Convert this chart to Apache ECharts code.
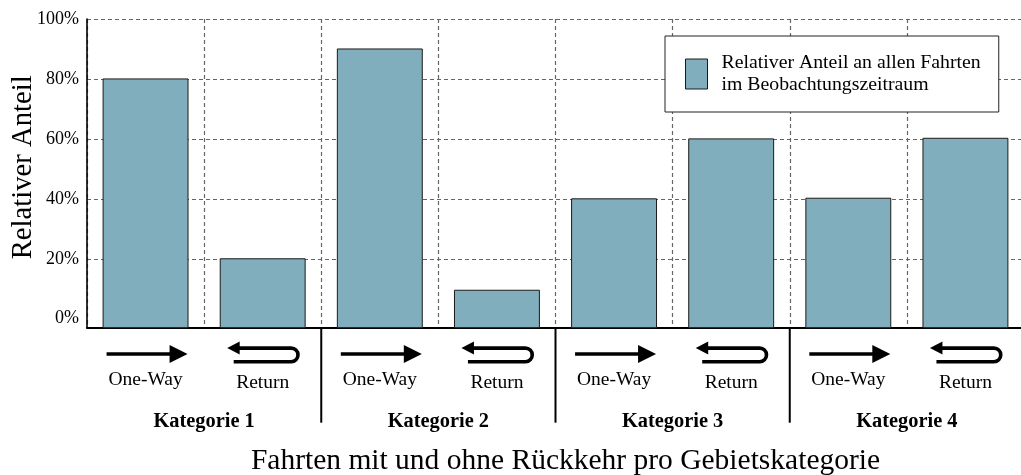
<!DOCTYPE html>
<html><head><meta charset="utf-8">
<script src="https://cdn.jsdelivr.net/npm/echarts@6/dist/echarts.min.js"></script>
<style>html,body{margin:0;padding:0;background:#fff}#c{width:1021px;height:475px}</style>
</head><body><div id="c"></div>
<script>
// ---- data ----
const tripTypes = ['One-Way', 'Return', 'One-Way', 'Return', 'One-Way', 'Return', 'One-Way', 'Return'];
const categories = ['Kategorie 1', 'Kategorie 2', 'Kategorie 3', 'Kategorie 4'];
const shares = [80, 20, 90, 9.5, 40, 60, 40.2, 60.2];
const yTickValues = [0, 20, 40, 60, 80, 100];
const yGridValues = [20, 40, 60, 80, 100];
const seriesName = 'Relativer Anteil an allen Fahrten\nim Beobachtungszeitraum';
const yTitle = 'Relativer Anteil';
const xTitle = 'Fahrten mit und ohne Rückkehr pro Gebietskategorie';

// ---- style ----
const Y_MIN = -3, Y_MAX = 100;
const FONT = '"Liberation Serif", "DejaVu Serif", serif';
const BAR_COLOR = '#80aebd';
const EDGE = '#1a1a1a';
const GRID_COLOR = '#666';

const chart = echarts.init(document.getElementById('c'), null, {renderer: 'canvas'});

function renderBar(params, api) {
  const i = api.value(0), v = api.value(1);
  const top = api.coord([i, v]);
  const base = api.coord([i, Y_MIN]);
  const bw = api.size([1, 0])[0] * 0.725;
  return {
    type: 'rect',
    shape: {x: top[0] - bw / 2, y: top[1], width: bw, height: base[1] - top[1]},
    style: {fill: BAR_COLOR, stroke: EDGE, lineWidth: 1}
  };
}

function renderDeco(params, api) {
  const i = api.value(0);
  const p = api.coord([i, Y_MIN]);
  const cx = p[0], y0 = p[1];
  const band = api.size([1, 0])[0];
  const lw = 3.6;
  const children = [];
  if (tripTypes[i] === 'One-Way') {
    const y = y0 + 26.3;
    children.push({type: 'line', shape: {x1: cx - 39, y1: y, x2: cx + 27, y2: y}, style: {stroke: '#000', lineWidth: lw}});
    children.push({type: 'polygon', shape: {points: [[cx + 24, y - 9], [cx + 42, y], [cx + 24, y + 9]]}, style: {fill: '#000'}});
  } else {
    const yt = y0 + 20.4, yb = y0 + 34, r = (yb - yt) / 2, ux = cx + 28.5;
    const d = 'M' + (cx - 25) + ' ' + yt + ' L' + ux + ' ' + yt +
      ' A' + r + ' ' + r + ' 0 0 1 ' + ux + ' ' + yb + ' L' + (cx - 29) + ' ' + yb;
    children.push({type: 'path', shape: {pathData: d}, style: {fill: 'none', stroke: '#000', lineWidth: lw}});
    children.push({type: 'polygon', shape: {points: [[cx - 35.5, yt], [cx - 23, yt - 6.5], [cx - 23, yt + 6.5]]}, style: {fill: '#000'}});
  }
  if (i % 2 === 1 && i < tripTypes.length - 1) {
    const sx = cx + band / 2;
    children.push({type: 'line', shape: {x1: sx, y1: y0, x2: sx, y2: y0 + 95}, style: {stroke: '#000', lineWidth: 2}});
  }
  return {type: 'group', children: children};
}

const option = {
  animation: false,
  backgroundColor: '#fff',
  textStyle: {fontFamily: FONT, color: '#000'},
  grid: {left: 87, top: 19, right: -3, bottom: 147.3, containLabel: false, outerBoundsMode: 'none'},
  legend: {
    left: 665, top: 36,
    orient: 'vertical',
    data: [{name: seriesName, icon: 'rect', itemStyle: {color: BAR_COLOR, borderColor: EDGE, borderWidth: 1}}],
    itemWidth: 22, itemHeight: 30,
    padding: [16, 18, 16, 20],
    backgroundColor: '#fff',
    borderColor: '#222', borderWidth: 1, borderRadius: 0,
    textStyle: {fontFamily: FONT, fontSize: 19.8, lineHeight: 22, color: '#000', padding: [0, 0, 0, 9]},
    selectedMode: false
  },
  xAxis: [{
    type: 'category',
    data: tripTypes,
    position: 'bottom',
    boundaryGap: true,
    axisLine: {onZero: false, lineStyle: {color: '#000', width: 2}},
    axisTick: {show: false},
    axisLabel: {
      interval: 0, margin: 41, fontFamily: FONT, fontSize: 19.5, color: '#000',
      formatter: function (v) { return (v === 'Return' ? '{r|' : '{o|') + v + '}'; },
      rich: {
        o: {fontFamily: FONT, fontSize: 19.5, color: '#000', lineHeight: 22},
        r: {fontFamily: FONT, fontSize: 19.5, color: '#000', lineHeight: 28}
      }
    },
    splitLine: {show: true, interval: 0, lineStyle: {color: GRID_COLOR, width: 1.2, type: [4, 3]}}
  }, {
    type: 'category',
    data: categories,
    position: 'bottom',
    boundaryGap: true,
    axisLine: {show: false, onZero: false},
    axisTick: {show: false},
    axisLabel: {interval: 0, margin: 84, fontFamily: FONT, fontSize: 20.4, fontWeight: 'bold', color: '#000'},
    splitLine: {show: false},
    name: xTitle,
    nameLocation: 'middle',
    nameGap: 119,
    nameMoveOverlap: false,
    nameTextStyle: {fontFamily: FONT, fontSize: 29.5, color: '#000', padding: [0, 0, 0, 20]}
  }],
  yAxis: {
    type: 'value',
    min: Y_MIN, max: Y_MAX,
    axisLine: {show: true, lineStyle: {color: '#000', width: 1.6}},
    axisTick: {show: false, customValues: yGridValues},
    axisLabel: {
      customValues: yTickValues,
      margin: 8, fontFamily: FONT, fontSize: 18, color: '#000',
      formatter: function (v) { return v + '%'; }
    },
    splitLine: {
      show: true,
      lineStyle: {color: GRID_COLOR, width: 1.2, type: [4, 3]}
    },
    name: yTitle,
    nameLocation: 'middle',
    nameGap: 49,
    nameMoveOverlap: false,
    nameTextStyle: {fontFamily: FONT, fontSize: 28.7, color: '#000', padding: [0, 0, 0, 12]}
  },
  series: [{
    name: seriesName,
    type: 'custom',
    xAxisIndex: 0, yAxisIndex: 0,
    renderItem: renderBar,
    itemStyle: {color: BAR_COLOR, borderColor: EDGE, borderWidth: 1},
    encode: {x: 0, y: 1},
    data: shares.map(function (v, i) { return [i, v]; }),
    z: 3
  }, {
    name: 'deco',
    type: 'custom',
    xAxisIndex: 0, yAxisIndex: 0,
    renderItem: renderDeco,
    clip: false,
    silent: true,
    encode: {x: 0},
    data: tripTypes.map(function (t, i) { return [i]; }),
    z: 4
  }]
};
chart.setOption(option);
</script>
</body></html>
